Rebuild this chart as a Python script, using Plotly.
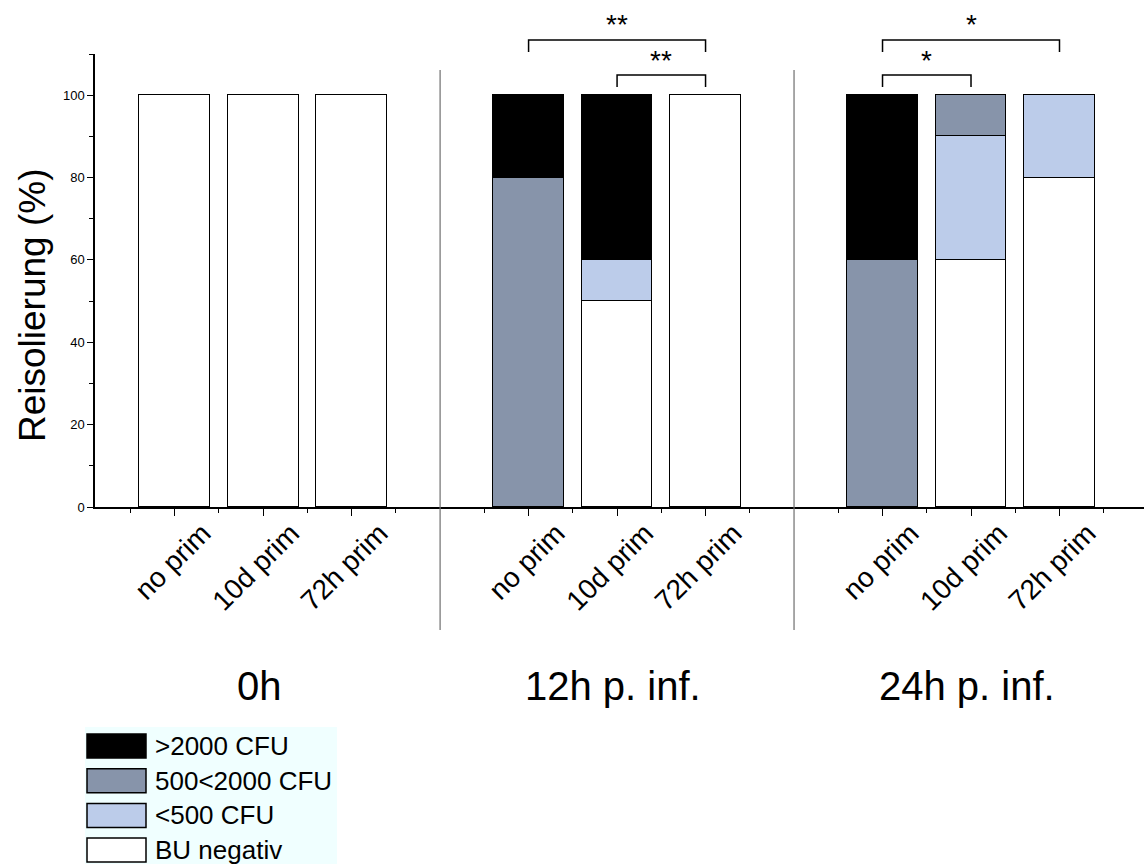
import plotly.graph_objects as go

# ---- data -------------------------------------------------------------
groups = ["0h", "12h p. inf.", "24h p. inf."]
treatments = ["no prim", "10d prim", "72h prim"]
x_pos = [0, 1, 2, 4, 5, 6, 8, 9, 10]      # slots 3 and 7 stay empty (group gaps)
tick_text = treatments * 3
group_centers = [1, 5, 9]
separators = [3, 7]

bu_negativ = [100, 100, 100, 0, 50, 100, 0, 60, 80]
cfu_lt500 = [0, 0, 0, 0, 10, 0, 0, 30, 20]
cfu_500_2000 = [0, 0, 0, 80, 0, 0, 60, 10, 0]
cfu_gt2000 = [0, 0, 0, 20, 40, 0, 40, 0, 0]

series = [bu_negativ, cfu_lt500, cfu_500_2000, cfu_gt2000]
series_names = ["BU negativ", "<500 CFU", "500<2000 CFU", ">2000 CFU"]
series_colors = ["#FFFFFF", "#BCCCEA", "#8794AA", "#000000"]

# significance brackets: (from slot, to slot, level, label)
brackets = [(4, 6, "high", "**"), (5, 6, "low", "**"),
            (8, 10, "high", "*"), (8, 9, "low", "*")]

# ---- geometry ---------------------------------------------------------
W, H = 1144, 864
ML, MR, MT, MB = 95, 0, 54, 357
PW, PH = W - ML - MR, H - MT - MB
X_RANGE = [-0.9, 10.955]
Y_RANGE = [0, 110]
FONT = "Liberation Sans, Arial, sans-serif"


def xp(v):
    """slot position -> paper x"""
    return (v - X_RANGE[0]) / (X_RANGE[1] - X_RANGE[0])


def px_x(px):
    return (px - ML) / PW


def px_y(py):
    return (H - MB - py) / PH


fig = go.Figure()
for vals, name, color in zip(series, series_names, series_colors):
    fig.add_trace(go.Bar(
        x=x_pos, y=[v if v else None for v in vals], name=name,
        width=0.8, marker=dict(color=color, line=dict(color="#000000", width=1.5)),
        showlegend=False,
    ))

shapes = []
annotations = []

# group separators
for s in separators:
    shapes.append(dict(type="line", xref="paper", yref="paper",
                       x0=xp(s), x1=xp(s), y0=px_y(70), y1=px_y(630),
                       line=dict(color="#6e6e6e", width=1.2)))

# group titles
for g, c in zip(groups, group_centers):
    annotations.append(dict(text=g, xref="paper", yref="paper", x=xp(c), y=px_y(686),
                            xanchor="center", yanchor="middle", showarrow=False,
                            xshift=-4,
                            font=dict(family=FONT, size=40, color="#000")))

# significance brackets
levels = {"high": (40, 52, 42), "low": (75, 87, 78)}
for a, b, lvl, lab in brackets:
    top, leg, txt = levels[lvl]
    shapes.append(dict(type="path", xref="paper", yref="paper",
                       path=f"M {xp(a)} {px_y(leg)} L {xp(a)} {px_y(top)} "
                            f"L {xp(b)} {px_y(top)} L {xp(b)} {px_y(leg)}",
                       line=dict(color="#000000", width=1.5)))
    annotations.append(dict(text=lab, xref="paper", yref="paper",
                            x=xp((a + b) / 2), y=px_y(txt), xanchor="center",
                            yanchor="bottom", showarrow=False,
                            font=dict(family=FONT, size=28, color="#000")))

# y-axis title
annotations.append(dict(text="Reisolierung (%)", xref="paper", yref="paper",
                        x=px_x(32), y=px_y(305), textangle=-90,
                        xanchor="center", yanchor="middle", showarrow=False,
                        font=dict(family=FONT, size=37, color="#000")))

# legend box (drawn top to bottom: highest class first)
shapes.append(dict(type="rect", xref="paper", yref="paper",
                   x0=px_x(85), x1=px_x(337), y0=px_y(727), y1=px_y(870),
                   fillcolor="#F0FFFF", line=dict(width=0), layer="below"))
for i, (name, color) in enumerate(zip(series_names[::-1], series_colors[::-1])):
    top = 734 + i * 34.7
    shapes.append(dict(type="rect", xref="paper", yref="paper",
                       x0=px_x(87), x1=px_x(146), y0=px_y(top), y1=px_y(top + 24),
                       fillcolor=color, line=dict(color="#000000", width=1.5)))
    annotations.append(dict(text=name, xref="paper", yref="paper",
                            x=px_x(153), y=px_y(top + 12), xanchor="left",
                            yanchor="middle", showarrow=False,
                            font=dict(family=FONT, size=26, color="#000")))

fig.update_layout(
    width=W, height=H, barmode="stack", bargap=0,
    margin=dict(l=ML, r=MR, t=MT, b=MB, pad=0),
    paper_bgcolor="#FFFFFF", plot_bgcolor="#FFFFFF",
    font=dict(family=FONT, color="#000"),
    shapes=shapes, annotations=annotations,
    xaxis=dict(range=X_RANGE, tickmode="array", tickvals=x_pos, ticktext=tick_text,
               tickangle=-45, ticks="outside", ticklen=7, tickwidth=1.2,
               tickcolor="#000", showline=True, linecolor="#000", linewidth=1.5,
               showgrid=False, zeroline=False,
               tickfont=dict(family=FONT, size=28, color="#000"),
               ticklabelshift=28, ticklabelstandoff=-10,
               minor=dict(tickmode="linear", tick0=-0.5, dtick=1, ticks="outside",
                          ticklen=4, tickwidth=1.2, tickcolor="#000")),
    yaxis=dict(range=Y_RANGE, tickmode="array", tickvals=[0, 20, 40, 60, 80, 100],
               ticks="outside", ticklen=6, tickwidth=1.2, tickcolor="#000",
               showline=True, linecolor="#000", linewidth=1.5,
               showgrid=False, zeroline=False,
               tickfont=dict(family=FONT, size=13, color="#000"),
               minor=dict(tickmode="linear", tick0=10, dtick=20, ticks="outside",
                          ticklen=4, tickwidth=1.2, tickcolor="#000")),
)

fig.write_html("out.html")
